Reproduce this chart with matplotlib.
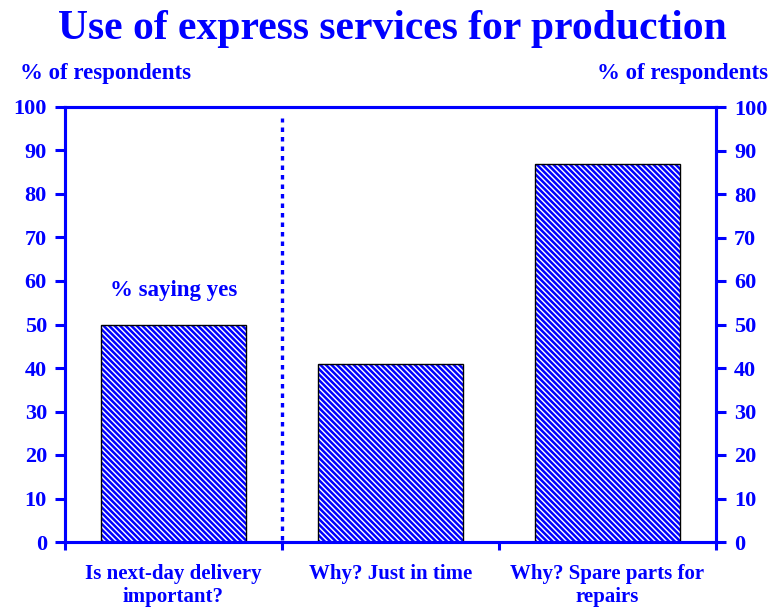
import matplotlib
matplotlib.use("Agg")
import matplotlib.pyplot as plt

categories = ["Is next-day delivery\nimportant?", "Why? Just in time", "Why? Spare parts for\nrepairs"]
values = [50, 41, 87]
yticks = [0, 10, 20, 30, 40, 50, 60, 70, 80, 90, 100]

BLUE = "#0000FF"
plt.rcParams['font.family'] = ['Liberation Serif', 'DejaVu Serif']
plt.rcParams['font.weight'] = 'bold'
plt.rcParams['hatch.linewidth'] = 1.8

fig = plt.figure(figsize=(7.71, 6.08), dpi=100)
ax = fig.add_axes([65/771, 66/608, (716-65)/771, (542-107)/608])

x = [i + 0.5 for i in range(len(categories))]
ax.bar(x, values, width=0.67, color="white", edgecolor=BLUE, hatch="\\\\\\\\\\\\", linewidth=0, zorder=2)
ax.bar(x, values, width=0.67, fill=False, edgecolor="black", linewidth=1.0, zorder=3)

ax.set_xlim(0, 3)
ax.set_ylim(0, 100)
ax.set_yticks(yticks)
ax.set_xticks([0, 1, 2, 3])
ax.set_xticklabels([])

for s in ax.spines.values():
    s.set_color(BLUE)
    s.set_linewidth(2.2)
ax.tick_params(axis='y', colors=BLUE, width=2.2, length=7, labelsize=16, pad=6)
ax.tick_params(axis='x', colors=BLUE, width=2.2, length=6)
for lab in ax.get_yticklabels():
    lab.set_fontweight('bold')

ax2 = ax.twinx()
ax2.set_ylim(0, 100)
ax2.set_yticks(yticks)
for s in ax2.spines.values():
    s.set_color(BLUE)
    s.set_linewidth(2.2)
ax2.tick_params(axis='y', colors=BLUE, width=2.2, length=7, labelsize=16, pad=6)
for lab in ax2.get_yticklabels():
    lab.set_fontweight('bold')

# category labels
for xi, c in zip(x, categories):
    ax.text(xi, -5.0, c, ha='center', va='top', color=BLUE, fontsize=15, fontweight='bold',
            linespacing=1.2)

# dotted separator
ax.plot([1, 1], [0.5, 97.5], color=BLUE, linewidth=2.4, dashes=(1.35, 1.5),
        dash_capstyle='butt', zorder=4, clip_on=False)

ax.text(0.5, 57.8, "% saying yes", ha='center', va='center', color=BLUE, fontsize=16.5, fontweight='bold')

fig.text(392/771, 1 - 29/608, "Use of express services for production", ha='center', va='center',
         color=BLUE, fontsize=30, fontweight='bold')
fig.text(20/771, 1 - 73/608, "% of respondents", ha='left', va='center', color=BLUE, fontsize=16.5,
         fontweight='bold')
fig.text(768/771, 1 - 73/608, "% of respondents", ha='right', va='center', color=BLUE, fontsize=16.5,
         fontweight='bold')

fig.savefig("out.png", dpi=100)
